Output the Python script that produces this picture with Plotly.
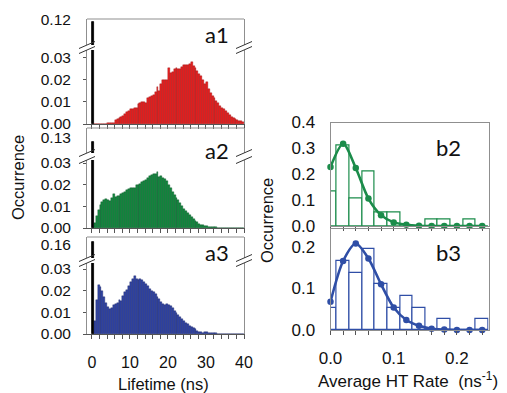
import plotly.graph_objects as go

# page is drawn with an 8 px body margin, so the figure is sized to fit the window
W, H = 499, 385
OFF = 8

# ---------------- data ----------------
# Lifetime histogram bins (0.5 ns wide), centres
lifetime_centres = [0.25 + 0.5 * i for i in range(80)]

a1_occ = [0, 0, 0, 0, 0, 0, 0, 0, 0.0005, 0.0005,
          0.0005, 0.0005, 0.0018, 0.0024, 0.0028, 0.0034, 0.0038, 0.0046, 0.0054, 0.0060,
          0.0066, 0.0070, 0.0073, 0.0074, 0.0092, 0.0097, 0.0099, 0.0098, 0.0095, 0.0118,
          0.0124, 0.0128, 0.0131, 0.0145, 0.0170, 0.0150, 0.0180, 0.0198, 0.0201, 0.0200,
          0.0255, 0.0232, 0.0238, 0.0248, 0.0255, 0.0250, 0.0252, 0.0258, 0.0266, 0.0267,
          0.0270, 0.0273, 0.0280, 0.0265, 0.0255, 0.0240, 0.0228, 0.0217, 0.0200, 0.0182,
          0.0190, 0.0160, 0.0140, 0.0128, 0.0118, 0.0106, 0.0095, 0.0082, 0.0074, 0.0066,
          0.0060, 0.0050, 0.0040, 0.0031, 0.0028, 0.0022, 0.0018, 0.0015, 0.0012, 0.0010]

a2_occ = [0, 0.0025, 0.0055, 0.0085, 0.0108, 0.0122, 0.0128, 0.0132, 0.0130, 0.0126,
          0.0140, 0.0155, 0.0143, 0.0147, 0.0150, 0.0158, 0.0163, 0.0165, 0.0176, 0.0180,
          0.0183, 0.0183, 0.0185, 0.0197, 0.0199, 0.0201, 0.0212, 0.0218, 0.0222, 0.0232,
          0.0238, 0.0244, 0.0248, 0.0250, 0.0257, 0.0236, 0.0240, 0.0233, 0.0226, 0.0215,
          0.0200, 0.0186, 0.0168, 0.0152, 0.0140, 0.0130, 0.0115, 0.0102, 0.0090, 0.0079,
          0.0068, 0.0058, 0.0049, 0.0042, 0.0034, 0.0026, 0.0020, 0.0015, 0.0012, 0.0009,
          0.0007, 0.0005, 0.0004, 0.0004, 0.0003, 0.0003, 0.0002, 0.0002, 0.0001, 0.0001,
          0.0001, 0.0001, 0, 0, 0, 0, 0, 0, 0, 0]

a3_occ = [0, 0.0060, 0.0158, 0.0225, 0.0215, 0.0198, 0.0172, 0.0145, 0.0125, 0.0114,
          0.0122, 0.0132, 0.0137, 0.0145, 0.0158, 0.0152, 0.0175, 0.0192, 0.0204, 0.0220,
          0.0240, 0.0256, 0.0267, 0.0254, 0.0249, 0.0255, 0.0250, 0.0240, 0.0230, 0.0220,
          0.0208, 0.0200, 0.0194, 0.0185, 0.0172, 0.0163, 0.0150, 0.0140, 0.0132, 0.0140,
          0.0135, 0.0128, 0.0118, 0.0108, 0.0098, 0.0086, 0.0080, 0.0068, 0.0060, 0.0053,
          0.0045, 0.0038, 0.0032, 0.0028, 0.0024, 0.0015, 0.0010, 0.0007, 0.0006, 0.0008,
          0.0007, 0.0004, 0.0004, 0.0003, 0.0004, 0.0003, 0.0002, 0.0002, 0.0001, 0.0001,
          0, 0, 0, 0, 0, 0, 0, 0, 0, 0]

# the tall first-bin spike (drawn black)
spike_x = [0.22]
a1_spike = [0.1184]
a2_spike = [0.126]
a3_spike = [0.1657]

# Average HT rate histograms
rate_bins = [0.00, 0.02, 0.04, 0.06, 0.08, 0.10, 0.12, 0.14, 0.16, 0.18, 0.20, 0.22, 0.24]
b2_hist = [0.132, 0.310, 0.105, 0.209, 0.051, 0.051, 0, 0, 0.026, 0.026, 0, 0.026, 0]
b2_fit = [0.228, 0.318, 0.224, 0.106, 0.042, 0.014, 0.005, 0.001, 0, 0, 0, 0, 0]
b3_hist = [0.054, 0.166, 0.138, 0.194, 0.110, 0.054, 0.082, 0.054, 0, 0.026, 0, 0, 0.026]
b3_fit = [0.068, 0.166, 0.208, 0.172, 0.110, 0.054, 0.024, 0.010, 0.003, 0.001, 0, 0, 0]

a_xtickvals = [0, 2, 4, 6, 8, 10, 12, 14, 16, 18, 20, 22, 24, 26, 28, 30, 32, 34, 36, 38, 40]
a_xticklabels = ["0", "", "", "", "", "10", "", "", "", "", "20", "", "", "", "", "30", "", "", "", "", "40"]
b_xticklabels = ["0.0", "", "", "", "", "0.1", "", "", "", "", "0.2", "", ""]

# ---------------- styling ----------------
FONT = "Liberation Sans, Arial, sans-serif"
LABFONT = "Lato, Carlito, sans-serif"
FRAME = "#8f8f8f"
AXIS = "#555555"


def px(x):
    return (x - OFF) / W


def py(y):
    return 1 - (y - OFF) / H


fig = go.Figure()
layout = dict(
    width=W, height=H, margin=dict(l=0, r=0, t=0, b=0),
    paper_bgcolor="white", plot_bgcolor="white", showlegend=False,
    bargap=0, font=dict(family=FONT, size=16, color="#111111"),
)
shapes = []
annotations = []

a_panels = [
    dict(label="a1", occ=a1_occ, spike=a1_spike, fill="#ea2020", edge="#9a1212",
         upper=(19, 45), lower=(50, 124), urange=[0.100, 0.1208], lrange=[0, 0.0336],
         utick=[0.12], utext=["0.12"], lab_y=34),
    dict(label="a2", occ=a2_occ, spike=a2_spike, fill="#138c40", edge="#0a5027",
         upper=(128, 153), lower=(160, 228), urange=[0.115, 0.140], lrange=[0, 0.0314],
         utick=[0.13], utext=["0.13"], lab_y=150),
    dict(label="a3", occ=a3_occ, spike=a3_spike, fill="#3044a6", edge="#1a2668",
         upper=(237, 258), lower=(263, 334), urange=[0.135, 0.1752], lrange=[0, 0.0328],
         utick=[0.16], utext=["0.16"], lab_y=252),
]

AX_L, AX_R = 87, 244
for i, p in enumerate(a_panels):
    xn = i + 1
    yl = 2 * i + 1
    yu = 2 * i + 2
    xkey = "xaxis" if xn == 1 else f"xaxis{xn}"
    xref = "x" if xn == 1 else f"x{xn}"
    ylkey = "yaxis" if yl == 1 else f"yaxis{yl}"
    ylref = "y" if yl == 1 else f"y{yl}"
    yukey = f"yaxis{yu}"
    yuref = f"y{yu}"

    layout[xkey] = dict(
        domain=[px(AX_L), px(AX_R)], range=[-1.3, 40], anchor=ylref,
        tickmode="array", tickvals=a_xtickvals,
        ticktext=a_xticklabels if i == 2 else [" "] * len(a_xtickvals),
        ticks="outside", ticklen=4, tickcolor=AXIS, tickwidth=1,
        showline=True, linecolor=AXIS, linewidth=1,
        showgrid=False, zeroline=False, automargin=False,
        ticklabelstandoff=10, tickfont=dict(size=16),
    )
    layout[ylkey] = dict(
        domain=[py(p["lower"][1]), py(p["lower"][0])], range=p["lrange"], anchor=xref,
        tickmode="array", tickvals=[0, 0.01, 0.02, 0.03],
        ticktext=["0.00", "0.01", "0.02", "0.03"],
        ticks="outside", ticklen=3, tickcolor=AXIS,
        showline=True, mirror=True, linecolor=FRAME, linewidth=1,
        showgrid=False, zeroline=False, automargin=False,
        ticklabelstandoff=9, tickfont=dict(size=15.5),
    )
    layout[yukey] = dict(
        domain=[py(p["upper"][1]), py(p["upper"][0])], range=p["urange"], anchor=xref,
        tickmode="array", tickvals=p["utick"], ticktext=p["utext"],
        ticks="", showline=True, mirror=True, linecolor=FRAME, linewidth=1,
        showgrid=False, zeroline=False, automargin=False,
        ticklabelstandoff=12, tickfont=dict(size=15.5),
    )

    fig.add_trace(go.Bar(x=lifetime_centres, y=p["occ"], width=0.5,
                         marker=dict(color=p["fill"], line=dict(color=p["edge"], width=0.4)),
                         xaxis=xref, yaxis=ylref))
    for yr in (ylref, yuref):
        fig.add_trace(go.Bar(x=spike_x, y=p["spike"], width=0.5,
                             marker=dict(color="black", line=dict(color="black", width=0.8)),
                             xaxis=xref, yaxis=yr))

    # top frame line
    top = p["upper"][0]
    shapes.append(dict(type="line", xref="paper", yref="paper",
                       x0=px(AX_L), x1=px(AX_R), y0=py(top), y1=py(top),
                       line=dict(color=FRAME, width=1)))
    # axis-break marks on both sides
    g0, g1 = p["upper"][1], p["lower"][0]
    for cx in (AX_L, AX_R):
        for cy in (g0, g1):
            shapes.append(dict(type="line", xref="paper", yref="paper",
                               x0=px(cx - 8), y0=py(cy + 3.5), x1=px(cx + 8), y1=py(cy - 3.5),
                               line=dict(color="#333333", width=1)))
    annotations.append(dict(text=p["label"], xref="paper", yref="paper",
                            x=px(231), y=py(p["lab_y"]), xanchor="right", yanchor="middle",
                            showarrow=False, font=dict(family=LABFONT, size=22, color="#111111")))

b_panels = [
    dict(label="b2", hist=b2_hist, fit=b2_fit, color="#1b8c4a", dom=(122.5, 226),
         yr=[0, 0.4], ytv=[0, 0.1, 0.2, 0.3, 0.4], lab_y=147, xlabels=False),
    dict(label="b3", hist=b3_hist, fit=b3_fit, color="#2f4ea6", dom=(229, 330),
         yr=[0, 0.243], ytv=[0, 0.1, 0.2], lab_y=252, xlabels=True),
]
for j, p in enumerate(b_panels):
    xn = 4 + j
    yn = 7 + j
    xref, yref = f"x{xn}", f"y{yn}"
    layout[f"xaxis{xn}"] = dict(
        domain=[px(330.5), px(488.5)], range=[0, 0.25], anchor=yref,
        tickmode="array", tickvals=rate_bins,
        ticktext=b_xticklabels if p["xlabels"] else [" "] * len(rate_bins),
        ticks="outside", ticklen=4, tickcolor=AXIS,
        showline=True, mirror=True, linecolor=FRAME, linewidth=1,
        showgrid=False, zeroline=False, automargin=False,
        ticklabelstandoff=9, tickfont=dict(size=17),
    )
    layout[f"yaxis{yn}"] = dict(
        domain=[py(p["dom"][1]), py(p["dom"][0])], range=p["yr"], anchor=xref,
        tickmode="array", tickvals=p["ytv"], ticktext=[f"{v:.1f}" for v in p["ytv"]],
        ticks="", showline=True, mirror=True, linecolor=FRAME, linewidth=1,
        showgrid=False, zeroline=False, automargin=False,
        ticklabelstandoff=11, tickfont=dict(size=17),
    )
    fig.add_trace(go.Bar(x=rate_bins, y=p["hist"], width=0.02,
                         marker=dict(color="white", line=dict(color=p["color"], width=1.2)),
                         xaxis=xref, yaxis=yref))
    fig.add_trace(go.Scatter(x=rate_bins, y=p["fit"], mode="lines+markers",
                             line=dict(color=p["color"], width=2.6, shape="spline", smoothing=0.8),
                             marker=dict(color=p["color"], size=6.5), cliponaxis=False,
                             xaxis=xref, yaxis=yref))
    annotations.append(dict(text=p["label"], xref="paper", yref="paper",
                            x=px(463), y=py(p["lab_y"]), xanchor="right", yanchor="middle",
                            showarrow=False, font=dict(family=LABFONT, size=22, color="#111111")))

# axis titles
annotations += [
    dict(text="Occurrence", xref="paper", yref="paper", x=px(18), y=py(178),
         textangle=-90, showarrow=False, xanchor="center", yanchor="middle",
         font=dict(size=16.5)),
    dict(text="Lifetime (ns)", xref="paper", yref="paper", x=px(163), y=py(384),
         showarrow=False, xanchor="center", yanchor="middle", font=dict(size=16.5)),
    dict(text="Occurrence", xref="paper", yref="paper", x=px(267), y=py(221),
         textangle=-90, showarrow=False, xanchor="center", yanchor="middle",
         font=dict(size=16.5)),
    dict(text="Average HT Rate  (ns<sup>-1</sup>)", xref="paper", yref="paper",
         x=px(408), y=py(380), showarrow=False, xanchor="center", yanchor="middle",
         font=dict(size=17)),
]

layout["shapes"] = shapes
layout["annotations"] = annotations
fig.update_layout(**layout)
fig.write_html("out.html")
